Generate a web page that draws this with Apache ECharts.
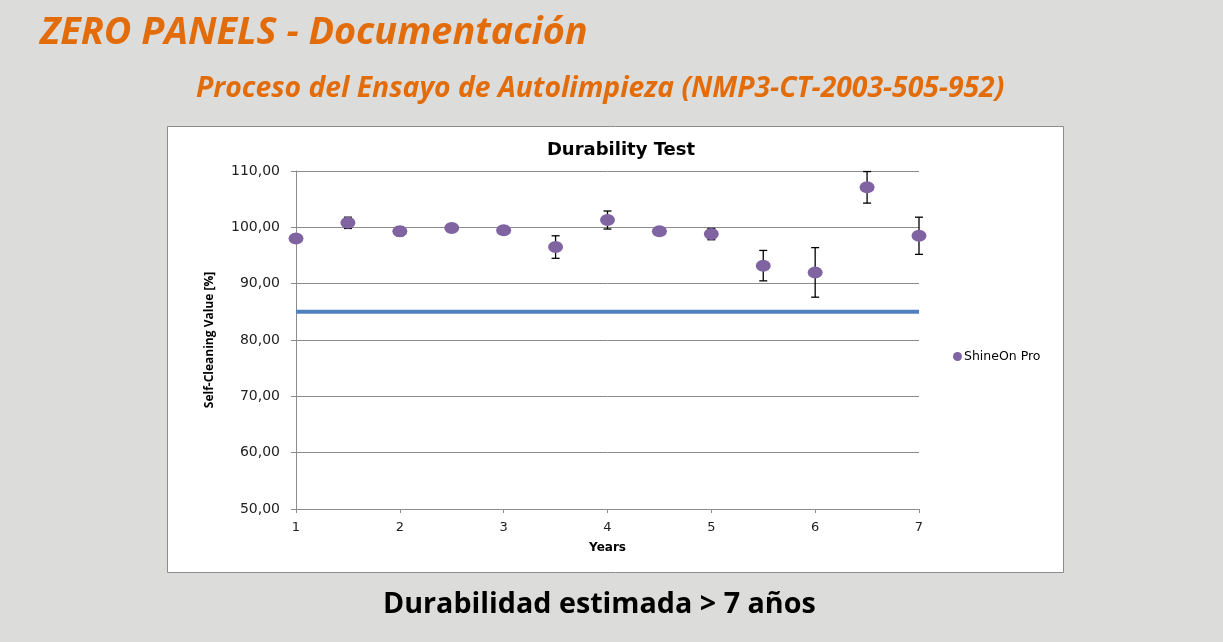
<!DOCTYPE html>
<html>
<head>
<meta charset="utf-8">
<script src="https://cdn.jsdelivr.net/npm/echarts@6/dist/echarts.min.js"></script>
<style>
  html, body { margin: 0; padding: 0; background: #dcdcda; }
  #main { width: 1223px; height: 642px; }
</style>
</head>
<body>
<div id="main"></div>
<script>
// datos
var years = [1, 1.5, 2, 2.5, 3, 3.5, 4, 4.5, 5, 5.5, 6, 6.5, 7];
var values = [98.0, 100.8, 99.3, 99.9, 99.5, 96.5, 101.3, 99.3, 98.8, 93.2, 92.0, 107.1, 98.5];
var errors = [0.3, 1.0, 0.8, 0.3, 0.7, 2.0, 1.6, 0.3, 1.0, 2.7, 4.4, 2.8, 3.3];
var limitX = [1, 7];
var limitY = [85, 85];

var chartDom = document.getElementById('main');
var myChart = echarts.init(chartDom);

var points = years.map(function (x, i) { return [x, values[i]]; });
var bars = years.map(function (x, i) { return [x, values[i] - errors[i], values[i] + errors[i]]; });
var limit = limitX.map(function (x, i) { return [x, limitY[i]]; });

var orange = '#e36c0a';
var purple = '#8064a2';

var option = {
    backgroundColor: '#dcdcda',
    animation: false,
    graphic: [
        {
            type: 'rect', z: 0, silent: true,
            shape: { x: 167.5, y: 126.5, width: 896, height: 446 },
            style: { fill: '#ffffff', stroke: '#8c8c8c', lineWidth: 1 }
        },
        {
            type: 'text', left: 40, top: 14,
            style: { text: 'ZERO PANELS - Documentación', fill: orange,
                font: 'italic bold 37.8px "Open Sans"' }
        },
        {
            type: 'text', left: 196, top: 75,
            style: { text: 'Proceso del Ensayo de Autolimpieza (NMP3-CT-2003-505-952)', fill: orange,
                font: 'italic bold 28.3px "Open Sans"' }
        },
        {
            type: 'text', left: 383, top: 590,
            style: { text: 'Durabilidad estimada > 7 años', fill: '#000000',
                font: 'bold 28.7px "Open Sans"' }
        }
    ],
    title: {
        text: 'Durability Test',
        left: 616, top: 136,
        textAlign: 'center',
        textStyle: { fontFamily: 'DejaVu Sans', fontWeight: 'bold', fontSize: 18, color: '#000' }
    },
    legend: {
        data: ['ShineOn Pro'],
        left: 948, top: 345,
        icon: 'circle',
        itemWidth: 9, itemHeight: 9, itemGap: 4,
        textStyle: { fontFamily: 'DejaVu Sans', fontSize: 12.5, color: '#000', padding: [0, 0, 0, -3] }
    },
    grid: { left: 296, right: 304, top: 171, bottom: 133 },
    xAxis: {
        type: 'value',
        min: 1, max: 7, interval: 1,
        name: 'Years',
        nameLocation: 'middle',
        nameGap: 33,
        nameTextStyle: { fontFamily: 'DejaVu Sans', fontWeight: 'bold', fontSize: 12, color: '#000' },
        axisLine: { lineStyle: { color: '#8c8c8c' } },
        axisTick: { show: true, length: 4, lineStyle: { color: '#8c8c8c' } },
        splitLine: { show: false },
        axisLabel: { fontFamily: 'DejaVu Sans', fontSize: 13, color: '#222', margin: 12 }
    },
    yAxis: {
        type: 'value',
        min: 50, max: 110, interval: 10,
        name: 'Self-Cleaning Value [%]',
        nameLocation: 'middle',
        nameGap: 80,
        nameRotate: 90,
        nameTextStyle: { fontFamily: 'Open Sans', fontWeight: 'bold', fontSize: 12, color: '#000' },
        axisLine: { show: true, lineStyle: { color: '#8c8c8c' } },
        axisTick: { show: true, length: 5, lineStyle: { color: '#8c8c8c' } },
        splitLine: { lineStyle: { color: '#8c8c8c', width: 1 } },
        axisLabel: {
            fontFamily: 'DejaVu Sans', fontSize: 14, color: '#222', margin: 16,
            formatter: function (v) { return v.toFixed(2).replace('.', ','); }
        }
    },
    series: [
        {
            name: 'limit',
            type: 'line',
            data: limit,
            symbol: 'none',
            lineStyle: { color: '#4f81bd', width: 4 },
            z: 2
        },
        {
            name: 'errors',
            type: 'custom',
            data: bars,
            z: 3,
            renderItem: function (params, api) {
                var x = api.value(0);
                var lo = api.coord([x, api.value(1)]);
                var hi = api.coord([x, api.value(2)]);
                var cap = 4;
                var st = { stroke: '#000', lineWidth: 1.3 };
                return {
                    type: 'group',
                    children: [
                        { type: 'line', shape: { x1: lo[0], y1: lo[1], x2: hi[0], y2: hi[1] }, style: st },
                        { type: 'line', shape: { x1: lo[0] - cap, y1: lo[1], x2: lo[0] + cap, y2: lo[1] }, style: st },
                        { type: 'line', shape: { x1: hi[0] - cap, y1: hi[1], x2: hi[0] + cap, y2: hi[1] }, style: st }
                    ]
                };
            }
        },
        {
            name: 'ShineOn Pro',
            type: 'scatter',
            data: points,
            symbol: 'circle',
            symbolSize: [15, 12],
            itemStyle: { color: purple, opacity: 1 },
            z: 4
        }
    ]
};

option && myChart.setOption(option);
</script>
</body>
</html>
